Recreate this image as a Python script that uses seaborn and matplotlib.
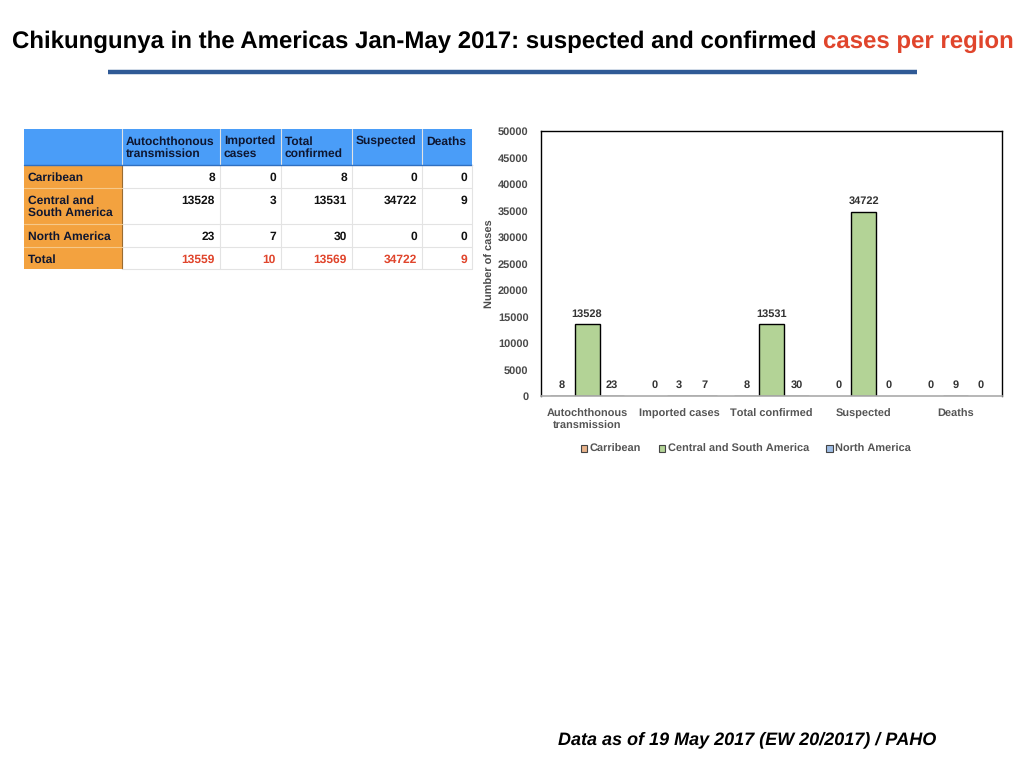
import matplotlib
matplotlib.use("Agg")
import matplotlib.pyplot as plt
from matplotlib.patches import Rectangle
from matplotlib.lines import Line2D
from matplotlib import font_manager as fm
import seaborn as sns
import pandas as pd

# ---------------- data ----------------
categories = ["Autochthonous\ntransmission", "Imported cases", "Total confirmed", "Suspected", "Deaths"]
table_headers = ["Autochthonous\ntransmission", "Imported\ncases", "Total\nconfirmed", "Suspected", "Deaths"]
regions = ["Carribean", "Central and South America", "North America"]
table_row_labels = ["Carribean", "Central and\nSouth America", "North America", "Total"]
carribean = [8, 0, 8, 0, 0]
central_south = [13528, 3, 13531, 34722, 9]
north_america = [23, 7, 30, 0, 0]
totals = [13559, 10, 13569, 34722, 9]
yticks = [0, 5000, 10000, 15000, 20000, 25000, 30000, 35000, 40000, 45000, 50000]

title_black = "Chikungunya in the Americas Jan-May 2017: suspected and confirmed "
title_red = "cases per region"
footer = "Data as of 19 May 2017 (EW 20/2017) / PAHO"

colors = ["#E9B48C", "#B3D396", "#9DBCE4"]
RED = "#E0452C"

rows = []
for reg, vals in zip(regions, [carribean, central_south, north_america]):
    for c, v in zip(categories, vals):
        rows.append({"category": c, "region": reg, "value": v})
df = pd.DataFrame(rows)

sns.set_theme(style="white")
plt.rcParams["font.family"] = ["Liberation Sans", "DejaVu Sans"]
plt.rcParams["text.hinting"] = "no_hinting"
plt.rcParams["text.hinting_factor"] = 1


def font_file(names):
    for f in fm.fontManager.ttflist:
        base = f.fname.split("/")[-1]
        if base in names:
            return f.fname
    return None


bold_path = font_file(["LiberationSans-Bold.ttf"])
reg_path = font_file(["LiberationSans-Regular.ttf"])
bi_path = font_file(["LiberationSans-BoldItalic.ttf"])


def FP(path, size, fallback_weight="bold", fallback_style="normal"):
    if path:
        return fm.FontProperties(fname=path, size=size)
    return fm.FontProperties(family=["Liberation Sans", "DejaVu Sans"], weight=fallback_weight,
                             style=fallback_style, size=size)


W, H = 1024, 768
fig = plt.figure(figsize=(W / 100, H / 100), dpi=100)
fig.patch.set_facecolor("white")

bg = fig.add_axes([0, 0, 1, 1], zorder=0)
bg.set_xlim(0, W)
bg.set_ylim(H, 0)
bg.axis("off")
bg.patch.set_alpha(0)

# ---------------- title ----------------
fig.canvas.draw()
renderer = fig.canvas.get_renderer()
fs = 15
t1 = bg.text(0, 42, title_black, fontproperties=FP(bold_path, fs), color="black", va="center", ha="left")
t2 = bg.text(0, 42, title_red, fontproperties=FP(bold_path, fs), color=RED, va="center", ha="left")
w1 = t1.get_window_extent(renderer).width
w2 = t2.get_window_extent(renderer).width
fs2 = fs * 1000.0 / (w1 + w2)
t1.set_fontsize(fs2)
t2.set_fontsize(fs2)
w1 = t1.get_window_extent(renderer).width
w2 = t2.get_window_extent(renderer).width
x0 = (W - (w1 + w2)) / 2 + 1
t1.set_x(x0)
t2.set_x(x0 + w1)

bg.add_line(Line2D([108, 917], [72, 72], color="#2F5A96", linewidth=3.2, solid_capstyle="butt"))

ft = bg.text(558, 740, footer, fontproperties=FP(bi_path, 13, "bold", "italic"), color="black",
             va="center", ha="left")
fw = ft.get_window_extent(renderer).width
ft.set_fontsize(13 * 379.0 / fw)

# ---------------- table ----------------
col_x = [24, 122, 220, 281, 352, 422, 472]
row_y = [129, 165, 188, 224, 247, 269]
HEAD = "#4A9DF8"
SIDE = "#F3A23F"
GRID = "#E3E3E3"
TXT = "#0E1630"
tfs = 8.7
bg.add_patch(Rectangle((col_x[0], row_y[0]), col_x[-1] - col_x[0], row_y[1] - row_y[0],
                       facecolor=HEAD, edgecolor="none"))
bg.add_patch(Rectangle((col_x[0], row_y[1]), col_x[1] - col_x[0], row_y[-1] - row_y[1],
                       facecolor=SIDE, edgecolor="none"))
for x in col_x[1:-1]:
    bg.add_line(Line2D([x, x], [row_y[0], row_y[-1]], color=GRID, linewidth=0.8))
bg.add_line(Line2D([col_x[1], col_x[1]], [row_y[1], row_y[-1]], color="#9A6B30", linewidth=0.8))
for y in row_y[2:-1]:
    bg.add_line(Line2D([col_x[1], col_x[-1]], [y, y], color=GRID, linewidth=0.8))
    bg.add_line(Line2D([col_x[0], col_x[1]], [y, y], color="#F6C98A", linewidth=0.8))
bg.add_line(Line2D([col_x[0], col_x[-1]], [row_y[1], row_y[1]], color="#2F6FC0", linewidth=1.0))
bg.add_line(Line2D([col_x[-1], col_x[-1]], [row_y[1], row_y[-1]], color=GRID, linewidth=0.8))
bg.add_line(Line2D([col_x[1], col_x[-1]], [row_y[-1], row_y[-1]], color=GRID, linewidth=0.8))

for j, h in enumerate(table_headers):
    bg.text(col_x[j + 1] + 4, row_y[0] + 7, h, fontproperties=FP(bold_path, tfs), color=TXT,
            va="top", ha="left", linespacing=1.15)
table_vals = [carribean, central_south, north_america, totals]
for i, lab in enumerate(table_row_labels):
    bg.text(col_x[0] + 4, row_y[i + 1] + 7, lab, fontproperties=FP(bold_path, tfs), color=TXT,
            va="top", ha="left", linespacing=1.15)
    for j, v in enumerate(table_vals[i]):
        bg.text(col_x[j + 2] - 5, row_y[i + 1] + 7, str(v), fontproperties=FP(bold_path, tfs),
                color=RED if i == 3 else "#111111", va="top", ha="right")

# ---------------- chart ----------------
GREY = "#4A4A4A"
ax = fig.add_axes([541 / W, 1 - 396 / H, (1002 - 541) / W, (396 - 131) / H], zorder=2)
sns.barplot(data=df, x="category", y="value", hue="region", hue_order=regions, order=categories,
            palette=colors, saturation=1, edgecolor="black", linewidth=1.0, width=0.81, ax=ax, legend=True)
ax.set_xlim(-0.5, 4.5)
ax.set_ylim(0, 50000)
ax.set_yticks(yticks)
ax.set_yticklabels([str(t) for t in yticks])
for lab in ax.get_yticklabels():
    lab.set_fontproperties(FP(bold_path, 8.0))
    lab.set_color(GREY)
ax.tick_params(axis="x", length=0, pad=9)
ax.tick_params(axis="y", length=0, pad=9)
for lab in ax.get_xticklabels():
    lab.set_fontproperties(FP(bold_path, 7.9))
    lab.set_color("#555555")
    lab.set_linespacing(1.3)
ax.set_xlabel("")
ax.set_ylabel("Number of cases", fontproperties=FP(bold_path, 7.9), color=GREY, labelpad=2)
for side in ["left", "top", "right"]:
    ax.spines[side].set_color("black")
    ax.spines[side].set_linewidth(1.0)
ax.spines["bottom"].set_color("#AAAAAA")
ax.spines["bottom"].set_linewidth(1.2)

for p in ax.patches:
    if p.get_height() == 0:
        p.set_linewidth(0)

for cont in ax.containers:
    texts = ax.bar_label(cont, fmt="%d", padding=4, color="#333333")
    for t in texts:
        t.set_fontproperties(FP(bold_path, 7.8))

handles, labels = ax.get_legend_handles_labels()
for h in handles:
    h.set_edgecolor("#444444")
    h.set_linewidth(0.8)
ax.legend(handles, labels, loc="upper center", bbox_to_anchor=(0.445, -0.145), ncol=3, frameon=False,
          prop=FP(bold_path, 7.9), handlelength=0.55, handleheight=0.55, handletextpad=0.25,
          columnspacing=1.6, labelcolor="#555555")

fig.savefig("out.png", dpi=100)
